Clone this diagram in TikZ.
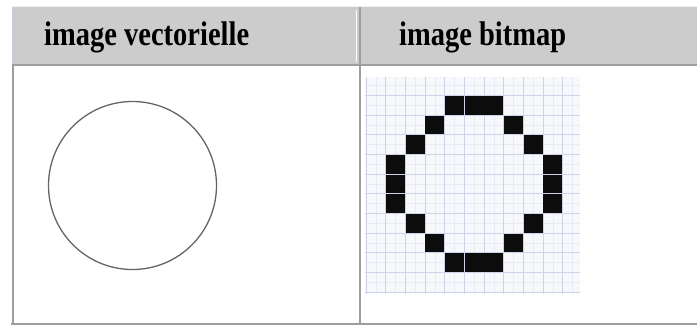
\documentclass[tikz,border=0pt]{standalone}
\usepackage{fontspec}
\setmainfont{Liberation Serif}
\usepackage{xcolor}
\usepackage{graphicx}
\usepackage{tikz}
\definecolor{headgrey}{RGB}{204,204,204}
\definecolor{rulegrey}{RGB}{158,158,158}
\definecolor{edgeblue}{RGB}{196,204,228}
\definecolor{penc}{RGB}{100,100,100}
\definecolor{papier}{RGB}{247,248,252}
\definecolor{gridmaj}{RGB}{205,210,230}
\definecolor{gridmin}{RGB}{232,235,245}
\newcommand{\headfont}[1]{\scalebox{1}[1.2]{\fontsize{28.5}{30}\selectfont\bfseries #1}}

\begin{document}
\begin{tikzpicture}[
  x=1pt, y=-1pt,
  headtxt/.style={anchor=base west, inner sep=0pt},
  rule/.style={fill=rulegrey},
  pix/.style={fill=black!95}
]
\useasboundingbox (0,0) rectangle (697,325);
% table frame
\fill[headgrey] (12,7) rectangle (697,64);
\fill[black!6] (12,6) rectangle (697,7);
\fill[edgeblue] (11.8,7) rectangle (13,64);
\fill[white] (355.5,10) rectangle (356.8,62);
\fill[rule] (12,64) rectangle (697,66);
\fill[rule] (12,64) rectangle (13.5,322.5);
\fill[rule] (359,7) rectangle (361,322.5);
\fill[rule] (11,322.5) rectangle (697,325);
% headers
\node[headtxt] (vec) at (44,45) {\headfont{image vectorielle}};
\node[headtxt] (bmp) at (399,45) {\headfont{image bitmap}};
% vector image
\node[circle, draw=penc, line width=1.3pt, minimum size=168pt, inner sep=0pt] (rond) at (132.5,185.5) {};
% bitmap image
\begin{scope}
\clip (365,77) rectangle (580,293);
\fill[papier] (365,77) rectangle (580,293);
\begin{scope}[shift={(366,75.83)}, x=19.67pt, y=-19.67pt]
\foreach \k in {0,...,11} {
  \draw[gridmin, line width=0.6pt] (\k-0.5,-1) -- (\k-0.5,12);
  \draw[gridmin, line width=0.6pt] (-1,\k-0.5) -- (12,\k-0.5);
}
\foreach \k in {0,...,11} {
  \draw[gridmaj, line width=1pt] (\k,-1) -- (\k,12);
  \draw[gridmaj, line width=1pt] (-1,\k) -- (12,\k);
}
\foreach \c/\r in {4/1,5/1,6/1,3/2,7/2,2/3,8/3,1/4,9/4,1/5,9/5,1/6,9/6,
                   2/7,8/7,3/8,7/8,4/9,5/9,6/9}
  \fill[pix] (\c+0.02,\r+0.02) rectangle ++(0.96,0.96);
\end{scope}
\end{scope}
\end{tikzpicture}
\end{document}
